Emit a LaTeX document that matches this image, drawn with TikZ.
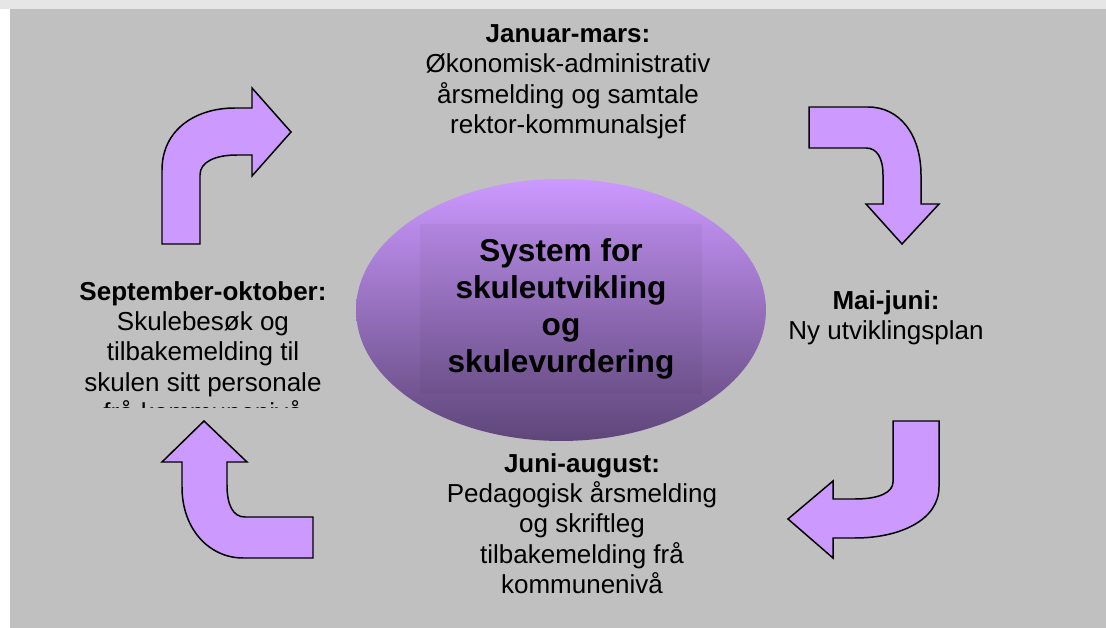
\documentclass[tikz,border=0pt]{standalone}
\usepackage{fontspec}
\setmainfont{Liberation Sans}
\usepackage{xcolor}

\definecolor{arrowfill}{HTML}{CC99FF}
\definecolor{panelgray}{HTML}{C0C0C0}
\definecolor{stripgray}{HTML}{E6E6E6}
\definecolor{ovaltop}{HTML}{CC99FF}
\definecolor{ovalmid}{HTML}{AE88DE}
\definecolor{ovalbot}{HTML}{5E4679}

\begin{document}
\begin{tikzpicture}[x=0.02cm, y=-0.02cm,
  bent/.style={draw=black, fill=arrowfill, line width=0.85pt, line join=miter},
  phase/.style={anchor=north, align=center, inner sep=0pt, font=\fontsize{14.8}{17.3}\selectfont},
  hub/.style={align=center, inner sep=0pt, font=\fontsize{18}{21}\selectfont\bfseries}]

\useasboundingbox (0,0) rectangle (1106,628);

% background
\fill[white] (0,0) rectangle (1106,628);
\fill[stripgray] (0,0) rectangle (1106,9);
\fill[panelgray] (10,9) rectangle (1106,628);

% centre oval
\shade[top color=ovaltop, middle color=ovalmid, bottom color=ovalbot]
  (561,310) ellipse [x radius=4.1cm, y radius=2.62cm];
\fill[black, opacity=0.04] (420,224) rectangle (702,394);
\node[hub] (sys) at (561,309) {System for\\skuleutvikling\\og\\skulevurdering};

% bent arrows
\draw[bent] (162,244) -- (162,170) .. controls (162,130) and (195,108) .. (235,108)
  -- (252,108) -- (252,88) -- (291,132) -- (252,176) -- (252,155) -- (237,155)
  .. controls (215,155) and (200,162) .. (200,175) -- (200,244) -- cycle;

\draw[bent] (809,107) -- (868,107) .. controls (900,107) and (921,135) .. (921,175)
  -- (921,204) -- (939,204) -- (902,244) -- (866,204) -- (883,204) -- (883,175)
  .. controls (883,158) and (877,148) .. (866,148) -- (809,148) -- cycle;

\draw[bent] (893,421) -- (939,421) -- (939,487) .. controls (939,520) and (900,538) .. (855,538)
  -- (833,538) -- (833,558) -- (788,519) -- (833,481) -- (833,499) -- (855,499)
  .. controls (880,499) and (893,492) .. (893,482) -- cycle;

\draw[bent] (313,517) -- (245,517) .. controls (233,517) and (227,505) .. (227,485)
  -- (227,462) -- (247,462) -- (204,421) -- (162,462) -- (182,462) -- (182,487)
  .. controls (182,530) and (210,558) .. (243,558) -- (313,558) -- cycle;

% phase texts
\node[phase] (jan) at (568,24) {\textbf{Januar-mars:}\\Økonomisk-administrativ\\årsmelding og samtale\\rektor-kommunalsjef};
\node[phase] (mai) at (886,290) {\textbf{Mai-juni:}\\Ny utviklingsplan};
\node[phase] (jun) at (582,453) {\textbf{Juni-august:}\\Pedagogisk årsmelding\\og skriftleg\\tilbakemelding frå\\kommunenivå};
\begin{scope}
\clip (40,270) rectangle (370,407);
\node[phase] (sep) at (203,281) {\textbf{September-oktober:}\\Skulebesøk og\\tilbakemelding til\\skulen sitt personale\\frå kommunenivå};
\end{scope}

\end{tikzpicture}
\end{document}
